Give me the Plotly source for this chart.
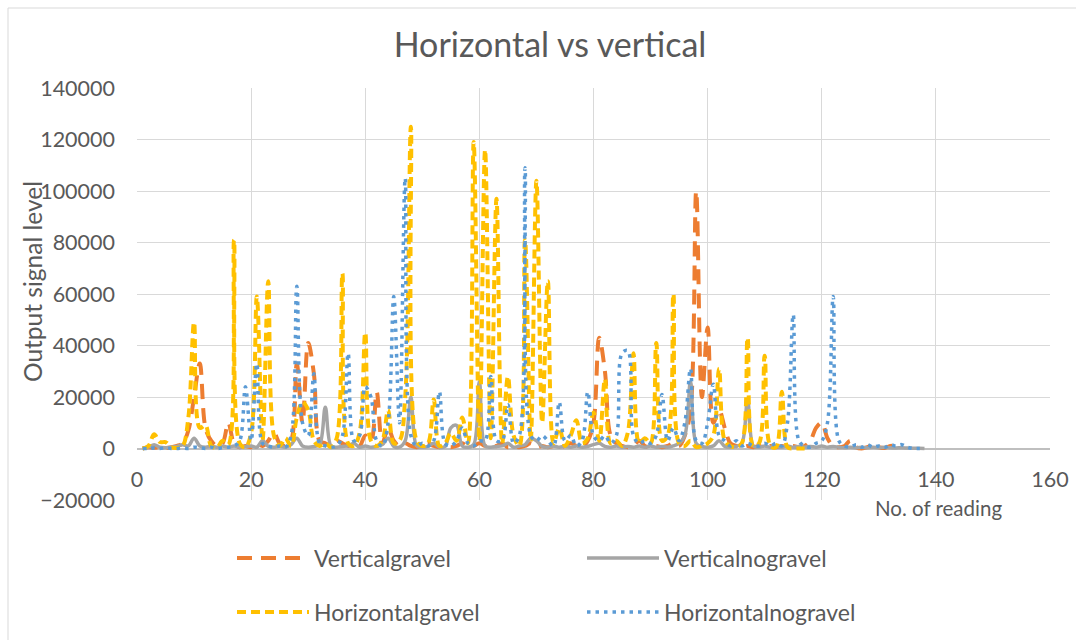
import plotly.graph_objects as go

readings = list(range(1, 139))

vertical_gravel = [
    0, 500, 300, 500, 200, 500, 1000, 2000, 7000, 20000,
    33000, 8000, 3000, 1000, 2000, 10000, 2000, 500, 1000, 500,
    2000, 1000, 3000, 6000, 2000, 1000, 3000, 33000, 10000, 41000,
    29000, 3000, 2000, 1000, 3000, 2000, 1000, 2000, 1000, 5000,
    3000, 22000, 2000, 8000, 3000, 1000, 2000, 1000, 500, 1000,
    2000, 1000, 500, 1000, 500, 1000, 2000, 500, 1000, 2000,
    1000, 500, 1000, 2000, 500, 1000, 500, 1000, 2000, 500,
    1000, 500, 1000, 500, 1000, 2000, 1000, 500, 3000, 10000,
    43000, 30000, 5000, 2000, 1000, 500, 1000, 3000, 1000, 500,
    1000, 500, 1000, 2000, 1000, 5000, 15000, 100000, 20000, 47000,
    10000, 15000, 8000, 2000, 1000, 500, 1000, 500, 1000, 500,
    1000, 500, 1000, 500, 1000, 500, 1000, 3000, 8000, 10000,
    4000, 1000, 500, 1000, 3000, 500, 0, 500, 1500, 500,
    200, 1000, 1000,
]

vertical_nogravel = [
    0, 500, 1500, 500, 300, 500, 800, 1500, 1000, 4000,
    1000, 500, 800, 500, 1000, 500, 1000, 500, 800, 1000,
    500, 3000, 800, 500, 1000, 500, 1500, 4000, 1000, 500,
    800, 1500, 16000, 1000, 500, 800, 1000, 2000, 500, 1000,
    500, 800, 1500, 4000, 800, 500, 3000, 20000, 1000, 500,
    800, 2000, 500, 800, 8000, 9000, 1000, 500, 1500, 26000,
    1000, 500, 800, 1000, 2000, 500, 1000, 1500, 4000, 3000,
    800, 500, 1000, 500, 800, 500, 1000, 500, 800, 1500,
    2000, 800, 500, 1000, 500, 800, 500, 1000, 500, 1000,
    500, 800, 500, 1000, 2000, 5000, 26000, 2000, 800, 500,
    1000, 3000, 800, 500, 800, 2000, 19000, 1000, 500, 1000,
    500, 800, 500, 1000, 500, 800, 500, 800, 500, 1000,
    500, 800, 500, 300, 500, 300, 500, 300, 500, 300,
    500, 300, 200, 300, 200, 100, 100, 0,
]

horizontal_gravel = [
    0, 1000, 5500, 2500, 2500, 500, 200, 1000, 12000, 49000,
    8000, 9000, 1000, 300, 3000, 1500, 81000, 2000, 500, 6000,
    59000, 3000, 65000, 5000, 1000, 4000, 1000, 12000, 18000, 15000,
    3000, 1000, 2000, 500, 4000, 68000, 2000, 1000, 6000, 45000,
    3000, 1000, 3000, 15000, 2000, 3000, 20000, 125000, 3000, 1000,
    2000, 19000, 1000, 2000, 6000, 3000, 12000, 2000, 119000, 3000,
    116000, 4000, 97000, 2000, 28000, 5000, 1000, 81000, 3000, 104000,
    10000, 65000, 2000, 8000, 1000, 5000, 11000, 2000, 4000, 14000,
    3000, 27000, 2000, 3000, 1000, 6000, 37000, 2000, 4000, 2000,
    41000, 3000, 5000, 60000, 2000, 1000, 3000, 500, 1000, 2000,
    5000, 31000, 3000, 1000, 500, 2000, 43000, 1000, 2000, 36000,
    1000, 500, 22000, 500, 0, 0, 0,
]

horizontal_nogravel = [
    0, 0, 200, 0, 300, 0, 0, 200, 0, 500,
    300, 0, 500, 0, 300, 500, 1000, 3000, 24000, 3000,
    33000, 2000, 1000, 500, 1000, 500, 5000, 63000, 10000, 5000,
    29000, 2000, 1000, 500, 1000, 5000, 37000, 3000, 5000, 24000,
    20000, 3000, 1000, 10000, 59000, 10000, 105000, 5000, 1000, 2000,
    1000, 3000, 22000, 2000, 1000, 3000, 8000, 2000, 1000, 3000,
    3000, 28000, 3000, 3000, 17000, 2000, 5000, 109000, 5000, 3000,
    5000, 3000, 1000, 18000, 3000, 5000, 1000, 3000, 22000, 5000,
    3000, 5000, 2000, 5000, 37000, 38000, 5000, 2000, 3000, 2000,
    5000, 21000, 3000, 8000, 3000, 10000, 31000, 3000, 2000, 10000,
    25000, 5000, 3000, 1000, 3000, 1000, 2000, 1000, 1000, 2000,
    1000, 2000, 1000, 10000, 52000, 3000, 1000, 500, 2000, 3000,
    10000, 59000, 3000, 1000, 500, 1500, 500, 1500, 500, 1000,
    300, 1500, 1000, 1500, 500, 0, 0, 0,
]

FONT = "Lato, sans-serif"
TXT = "#595959"

fig = go.Figure()
fig.add_trace(go.Scatter(
    x=readings[:len(vertical_gravel)], y=vertical_gravel, name="Verticalgravel",
    mode="lines", line=dict(color="#ED7D31", width=4, dash="15px,9px", shape="spline"),
    legend="legend"))
fig.add_trace(go.Scatter(
    x=readings[:len(vertical_nogravel)], y=vertical_nogravel, name="Verticalnogravel",
    mode="lines", line=dict(color="#A5A5A5", width=3.5, shape="spline"),
    legend="legend"))
fig.add_trace(go.Scatter(
    x=readings[:len(horizontal_gravel)], y=horizontal_gravel, name="Horizontalgravel",
    mode="lines", line=dict(color="#FFC000", width=4, dash="9px,5px", shape="spline"),
    legend="legend2"))
fig.add_trace(go.Scatter(
    x=readings[:len(horizontal_nogravel)], y=horizontal_nogravel, name="Horizontalnogravel",
    mode="lines", line=dict(color="#5B9BD5", width=3.5, dash="3.5px,5px", shape="spline"),
    legend="legend2"))

legend_common = dict(orientation="h", xanchor="left", yanchor="middle",
                     font=dict(family=FONT, size=23, color=TXT),
                     itemwidth=72, entrywidth=263, bgcolor="rgba(0,0,0,0)",
                     itemclick=False)

fig.update_layout(
    width=1076, height=640,
    margin=dict(l=137, r=26, t=88, b=140, autoexpand=False),
    paper_bgcolor="white", plot_bgcolor="white",
    font=dict(family=FONT, color=TXT, size=22),
    title=dict(text="Horizontal vs vertical", xref="paper",
               x=(550 - 137) / 913, xanchor="center",
               y=1 - 45 / 640, yanchor="middle",
               font=dict(family=FONT, size=34, color=TXT)),
    xaxis=dict(range=[0, 160], dtick=20, tick0=0, showgrid=True,
               gridcolor="#D9D9D9", gridwidth=1, zeroline=False,
               showline=False, ticks="", anchor="free", position=0.125,
               automargin=False,
               tickfont=dict(family=FONT, size=21.5, color=TXT),
               ticklabelstandoff=16),
    yaxis=dict(range=[-20000, 140000], dtick=20000, tick0=0, showgrid=True,
               gridcolor="#D9D9D9", gridwidth=1, zeroline=True,
               zerolinecolor="#BFBFBF", zerolinewidth=1.5,
               showline=False, ticks="", tickformat="d", automargin=False,
               tickfont=dict(family=FONT, size=21.5, color=TXT),
               ticklabelstandoff=21),
    legend=dict(x=(232 - 137) / 913, y=(500 - 558) / 412, **legend_common),
    legend2=dict(x=(232 - 137) / 913, y=(500 - 612) / 412, **legend_common),
    annotations=[
        dict(text="No. of reading", xref="paper", yref="paper",
             x=(1004 - 137) / 913, y=(500 - 508) / 412,
             xanchor="right", yanchor="middle", showarrow=False,
             font=dict(family=FONT, size=20.5, color=TXT)),
        dict(text="Output signal level", xref="paper", yref="paper",
             x=(32 - 137) / 913, y=(500 - 282) / 412, textangle=-90,
             xanchor="center", yanchor="middle", showarrow=False,
             font=dict(family=FONT, size=24.5, color=TXT)),
    ],
    shapes=[dict(type="rect", xref="paper", yref="paper",
                 x0=(8 - 137) / 913, x1=(1085 - 137) / 913,
                 y0=(500 - 650) / 412, y1=(500 - 8) / 412,
                 line=dict(color="#D9D9D9", width=1), layer="below")],
)

fig.write_html("out.html")
